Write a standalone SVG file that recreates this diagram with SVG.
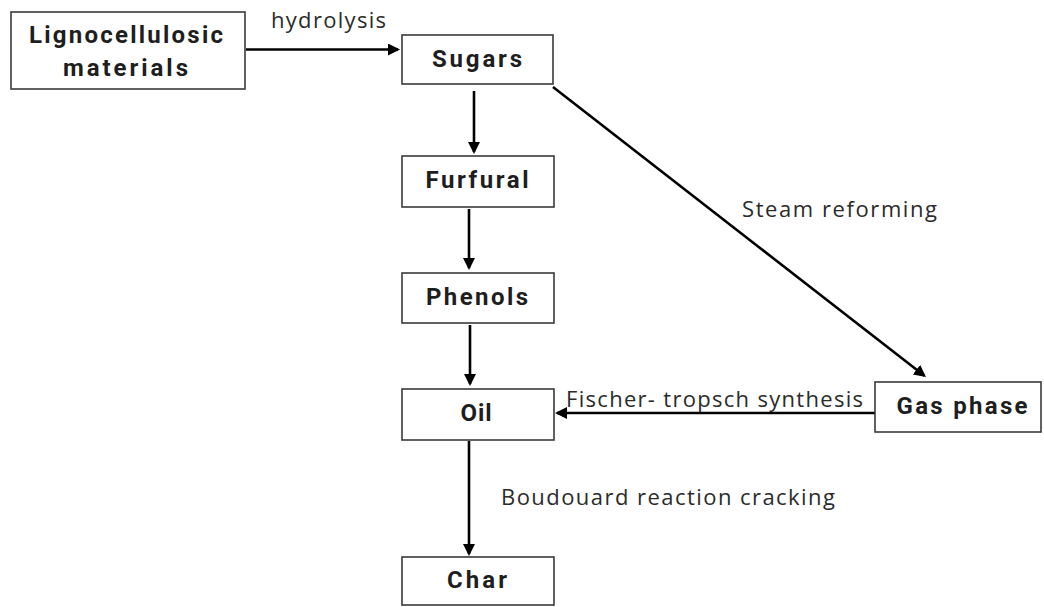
<svg xmlns="http://www.w3.org/2000/svg" width="1044" height="607" viewBox="0 0 1044 607">
<style>
.box{fill:#fff;stroke:#3a3a3a;stroke-width:1.6}
.nt{font-family:Roboto,"Liberation Sans",sans-serif;font-weight:700;font-size:24px;fill:#1e1e1e;text-anchor:middle}
.lb{font-family:"Open Sans","Noto Sans",sans-serif;font-size:22px;fill:#2b2b2b}
.ar{stroke:#000;stroke-width:2.6;fill:none;marker-end:url(#ah)}
</style>
<defs>
<marker id="ah" markerUnits="userSpaceOnUse" markerWidth="14" markerHeight="14" refX="10" refY="6" orient="auto">
<path d="M0,0 L12,6 L0,12 z" fill="#000"/>
</marker>
</defs>
<rect width="1044" height="607" fill="#fff"/>
<g id="connectors">
<line class="ar" x1="246" y1="49.5" x2="398" y2="49.5"/>
<line class="ar" x1="474" y1="91" x2="474" y2="152"/>
<line class="ar" x1="469" y1="209" x2="469" y2="268"/>
<line class="ar" x1="470" y1="325" x2="470" y2="384"/>
<line class="ar" x1="469" y1="441" x2="469" y2="554"/>
<line class="ar" x1="553" y1="87" x2="924.4" y2="375.8"/>
<line class="ar" x1="875" y1="413" x2="557" y2="413"/>
<text class="lb" x="271" y="28" textLength="115" lengthAdjust="spacing">hydrolysis</text>
<text class="lb" x="742" y="217" textLength="195" lengthAdjust="spacing">Steam reforming</text>
<text class="lb" x="566" y="407" textLength="297" lengthAdjust="spacing">Fischer- tropsch synthesis</text>
<text class="lb" x="501" y="505" textLength="334" lengthAdjust="spacing">Boudouard reaction cracking</text>
</g>
<g id="lignocellulosic">
<rect class="box" x="11" y="12" width="234" height="77"/>
<text class="nt" x="126" y="43" textLength="194" lengthAdjust="spacing">Lignocellulosic</text>
<text class="nt" x="125.5" y="76" textLength="125" lengthAdjust="spacing">materials</text>
</g>
<g id="sugars">
<rect class="box" x="402" y="35" width="151" height="49"/>
<text class="nt" x="477" y="67" textLength="90" lengthAdjust="spacing">Sugars</text>
</g>
<g id="furfural">
<rect class="box" x="402" y="156" width="152" height="51"/>
<text class="nt" x="477" y="188" textLength="103" lengthAdjust="spacing">Furfural</text>
</g>
<g id="phenols">
<rect class="box" x="402" y="273" width="152" height="50"/>
<text class="nt" x="477" y="305" textLength="102" lengthAdjust="spacing">Phenols</text>
</g>
<g id="oil">
<rect class="box" x="402" y="389" width="152" height="51"/>
<text class="nt" x="476" y="421" textLength="31" lengthAdjust="spacing">Oil</text>
</g>
<g id="char">
<rect class="box" x="402" y="557" width="152" height="48"/>
<text class="nt" x="477" y="588" textLength="60" lengthAdjust="spacing">Char</text>
</g>
<g id="gas-phase">
<rect class="box" x="875" y="382" width="166" height="50"/>
<text class="nt" x="962" y="414" textLength="131" lengthAdjust="spacing">Gas phase</text>
</g>
</svg>
